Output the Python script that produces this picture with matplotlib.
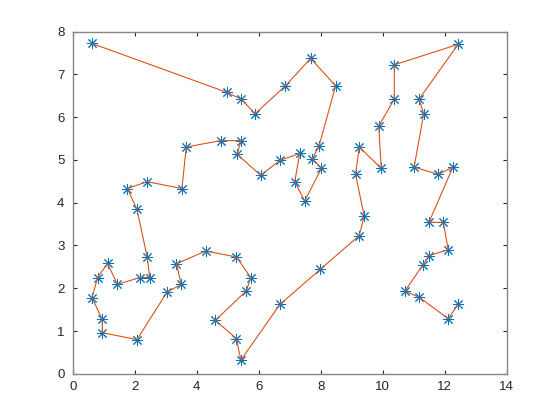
import numpy as np
import matplotlib.pyplot as plt

# city coordinates, in tour order
route_x = [0.62, 4.96, 5.43, 5.88, 6.86, 7.67, 8.48, 7.94, 7.73, 8.02,
           7.48, 7.16, 7.32, 6.69, 6.06, 5.30, 5.43, 4.77, 3.66, 3.52,
           2.40, 1.76, 2.07, 2.40, 2.48, 2.16, 1.44, 1.12, 0.80, 0.62,
           0.95, 0.95, 2.07, 3.04, 3.50, 3.34, 4.29, 5.28, 5.74, 5.60,
           4.60, 5.28, 5.42, 6.68, 7.98, 9.24, 9.40, 9.12, 9.24, 9.95,
           9.87, 10.37, 10.37, 12.43, 11.17, 11.32, 11.01, 11.79, 12.26, 11.49,
           11.95, 12.11, 11.49, 11.30, 10.71, 11.17, 12.11, 12.43]
route_y = [7.72, 6.58, 6.42, 6.08, 6.73, 7.37, 6.73, 5.32, 5.03, 4.80,
           4.04, 4.49, 5.15, 4.99, 4.64, 5.13, 5.45, 5.45, 5.30, 4.33,
           4.49, 4.33, 3.84, 2.73, 2.25, 2.25, 2.09, 2.58, 2.25, 1.78,
           1.27, 0.96, 0.80, 1.91, 2.09, 2.57, 2.87, 2.73, 2.25, 1.94,
           1.25, 0.82, 0.32, 1.62, 2.44, 3.23, 3.69, 4.66, 5.30, 4.80,
           5.79, 6.42, 7.22, 7.70, 6.42, 6.08, 4.83, 4.66, 4.83, 3.54,
           3.54, 2.90, 2.76, 2.55, 1.93, 1.79, 1.29, 1.62]

x_ticks = [0, 2, 4, 6, 8, 10, 12, 14]
y_ticks = [0, 1, 2, 3, 4, 5, 6, 7, 8]

plt.rcParams['font.family'] = ['Liberation Sans', 'DejaVu Sans']

fig = plt.figure(figsize=(5.6, 4.2), dpi=100)
ax = fig.add_axes([0.13, 0.11, 0.775, 0.815])

ax.plot(route_x, route_y, linestyle='none', marker=(8, 2, 0), markersize=8,
        markeredgewidth=0.7, color='#0072BD')
ax.plot(route_x, route_y, color='#D95319', linewidth=0.8)

ax.set_xlim(0, 14)
ax.set_ylim(0, 8)
ax.set_xticks(x_ticks)
ax.set_yticks(y_ticks)
for s in ax.spines.values():
    s.set_color('#868686')
    s.set_linewidth(1.0)
ax.tick_params(direction='in', length=3, width=0.8, color='#262626',
               labelcolor='#262626', labelsize=9.5, top=True, right=True)
ax.tick_params(axis='x', pad=5)
ax.tick_params(axis='y', pad=6)

fig.savefig('out.png', dpi=100, facecolor='white')
